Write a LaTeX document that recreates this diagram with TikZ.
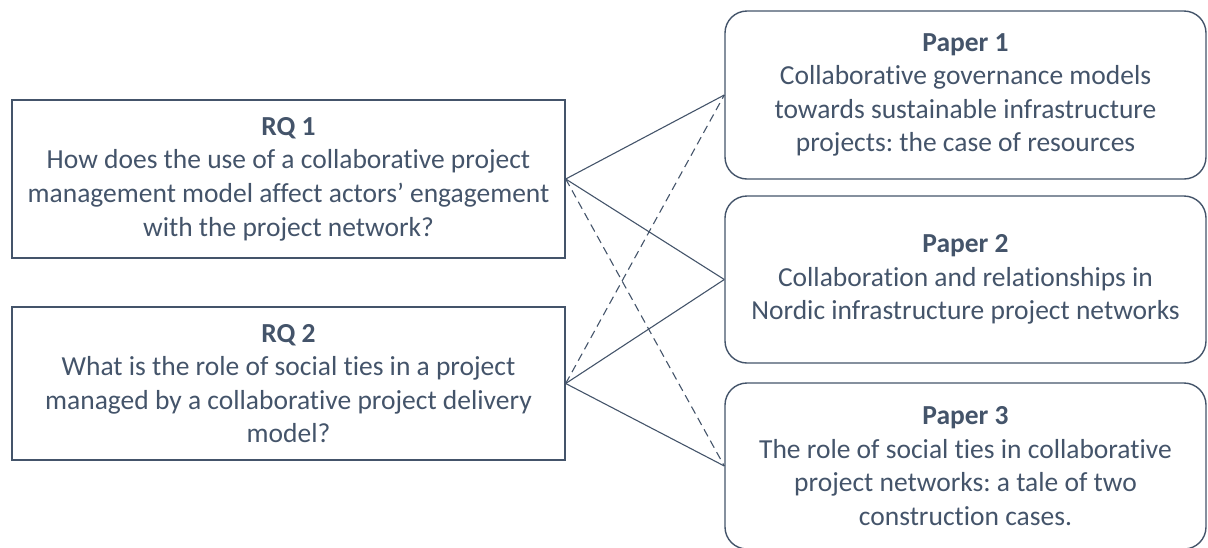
\documentclass[tikz,border=0pt]{standalone}
\usepackage{fontspec}
\setmainfont{Carlito}[Ligatures=NoCommon]
\frenchspacing
\definecolor{slate}{HTML}{44546A}
\begin{document}
\begin{tikzpicture}[x=1pt,y=-1pt,
  every node/.style={text=slate, font=\fontsize{27.5}{33.6}\selectfont, align=center, inner sep=0pt},
  rqbox/.style={draw=slate, line width=1.4pt, rectangle, minimum width=553pt},
  paperbox/.style={draw=slate, line width=1.4pt, rectangle, rounded corners=22pt, minimum width=481pt},
  link/.style={draw=slate, line width=1.1pt},
  dlink/.style={link, dash pattern=on 8pt off 5pt}]
\useasboundingbox (0,0) rectangle (1208,547);
\node[rqbox, minimum height=158pt] (rq1) at (288.5,179) {\textbf{RQ 1}\\How does the use of a collaborative project\\management model affect actors’ engagement\\with the project network?};
\node[rqbox, minimum height=153pt] (rq2) at (288.5,383.5) {\textbf{RQ 2}\\What is the role of social ties in a project\\managed by a collaborative project delivery\\model?};
\node[paperbox, minimum height=168pt] (p1) at (965.5,95) {\textbf{Paper 1}\\Collaborative governance models\\towards sustainable infrastructure\\projects: the case of resources};
\node[paperbox, minimum height=167pt] (p2) at (965.5,279.5) {\textbf{Paper 2}\\Collaboration and relationships in\\Nordic infrastructure project networks};
\node[paperbox, minimum height=166pt] (p3) at (965.5,466) {\textbf{Paper 3}\\The role of social ties in collaborative\\project networks: a tale of two\\construction cases.};
\draw[link] (rq1.east) -- (p1.west);
\draw[link] (rq1.east) -- (p2.west);
\draw[dlink] (rq1.east) -- (p3.west);
\draw[dlink] (rq2.east) -- (p1.west);
\draw[link] (rq2.east) -- (p2.west);
\draw[link] (rq2.east) -- (p3.west);
\end{tikzpicture}
\end{document}
